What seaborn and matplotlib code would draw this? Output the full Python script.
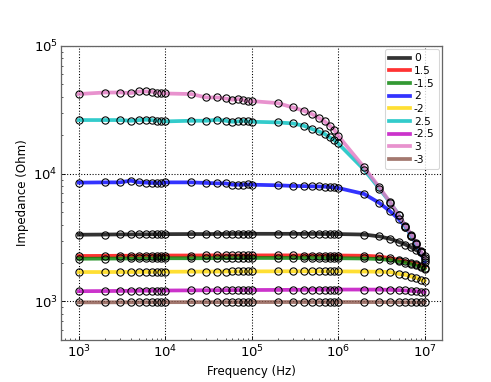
import numpy as np
import pandas as pd
import matplotlib
matplotlib.use("Agg")
import matplotlib.pyplot as plt
import seaborn as sns

# Frequencies (Hz)
freq = [1e3, 2e3, 3e3, 4e3, 5e3, 6e3, 7e3, 8e3, 9e3,
        1e4, 2e4, 3e4, 4e4, 5e4, 6e4, 7e4, 8e4, 9e4,
        1e5, 2e5, 3e5, 4e5, 5e5, 6e5, 7e5, 8e5, 9e5,
        1e6, 2e6, 3e6, 4e6, 5e6, 6e6, 7e6, 8e6, 9e6, 1e7]

labels = ['0', '1.5', '-1.5', '2', '-2', '2.5', '-2.5', '3', '-3']

z_0 = [3330, 3340, 3350, 3350, 3355, 3355, 3360, 3360, 3360,
       3365, 3370, 3370, 3375, 3375, 3380, 3380, 3380, 3380,
       3385, 3385, 3385, 3380, 3380, 3380, 3375, 3375, 3370,
       3370, 3340, 3230, 3090, 2930, 2790, 2650, 2520, 2420, 2250]
z_p15 = [2270, 2275, 2280, 2280, 2285, 2285, 2285, 2285, 2290,
         2290, 2290, 2295, 2295, 2295, 2295, 2295, 2295, 2295,
         2295, 2295, 2295, 2290, 2290, 2290, 2290, 2290, 2290,
         2290, 2280, 2250, 2180, 2120, 2065, 2006, 1970, 1910, 1830]
z_m15 = [2160, 2165, 2170, 2170, 2170, 2175, 2175, 2175, 2175,
         2180, 2180, 2180, 2185, 2185, 2185, 2185, 2185, 2185,
         2190, 2190, 2190, 2190, 2190, 2185, 2185, 2185, 2185,
         2180, 2170, 2150, 2110, 2060, 2010, 1960, 1920, 1870, 1800]
z_p2 = [8510, 8550, 8550, 8820, 8550, 8510, 8460, 8460, 8400,
        8550, 8550, 8460, 8400, 8400, 8200, 8200, 8200, 8250,
        8200, 8110, 8020, 7990, 7960, 7940, 7910, 7860, 7810,
        7730, 6940, 5900, 5070, 4420, 3850, 3280, 2840, 2420, 2050]
z_m2 = [1700, 1700, 1702, 1702, 1704, 1705, 1706, 1707, 1708,
        1710, 1712, 1714, 1715, 1716, 1717, 1718, 1719, 1720,
        1720, 1722, 1724, 1725, 1725, 1725, 1725, 1724, 1722,
        1720, 1715, 1710, 1700, 1645, 1617, 1568, 1531, 1484, 1446]
z_p25 = [26270, 26270, 26270, 25940, 26270, 26410, 26270, 25940, 25940,
         25640, 25940, 25940, 26410, 25940, 25480, 25640, 25940, 25640,
         25480, 25180, 24720, 23710, 22340, 21380, 20420, 19230, 18330,
         17250, 10740, 7630, 5930, 4790, 3850, 3280, 2840, 2460, 2130]
z_m25 = [1204, 1207, 1210, 1212, 1214, 1215, 1216, 1217, 1218,
         1219, 1222, 1224, 1226, 1227, 1228, 1229, 1229, 1230,
         1230, 1232, 1234, 1235, 1236, 1237, 1238, 1239, 1240,
         1240, 1240, 1238, 1234, 1228, 1220, 1212, 1204, 1195, 1186]
z_p3 = [42000, 43150, 43150, 42700, 43950, 43950, 43750, 42950, 42700,
        42400, 41970, 39450, 39450, 38730, 37850, 38370, 37670, 36730,
        36980, 35650, 32960, 31050, 29240, 27230, 25640, 23710, 22080,
        19820, 11200, 7810, 5970, 4760, 3920, 3340, 2890, 2500, 2170]
z_m3 = [985, 985, 986, 986, 986, 987, 987, 987, 987,
        988, 988, 988, 988, 989, 989, 989, 989, 989,
        990, 990, 990, 990, 990, 990, 990, 990, 990,
        990, 990, 989, 988, 987, 986, 985, 985, 984, 984]

series = [z_0, z_p15, z_m15, z_p2, z_m2, z_p25, z_m25, z_p3, z_m3]
colors = ['k', 'r', 'g', 'b', 'gold', 'c', 'm', 'tab:pink', 'tab:brown']

df = pd.DataFrame({
    'Frequency': np.tile(freq, len(labels)),
    'Impedance': np.concatenate(series),
    'V': np.repeat(labels, len(freq)),
})

plt.rcParams['mathtext.fontset'] = 'stix'
plt.rcParams['font.size'] = 10

fig, ax = plt.subplots(figsize=(6.4, 382 / 491 * 6.4), dpi=491 / 6.4)

for lab, col, z in zip(labels, colors, series):
    sub = df[df['V'] == lab]
    sns.lineplot(data=sub, x='Frequency', y='Impedance', color=col, lw=3.5,
                 alpha=0.8, label=lab, ax=ax, zorder=2)
    ax.plot(sub['Frequency'], sub['Impedance'], ls='none', marker='o',
            ms=6.8, mfc='none', mec='k', mew=1.0, zorder=3)

ax.set_xscale('log')
ax.set_yscale('log')
ax.set_ylim(500, 1e5)
ax.set_xlabel('Frequency (Hz)', fontsize=11)
ax.set_ylabel('Impedance (Ohm)', fontsize=11)
ax.grid(True, which='major', color='k', ls=':', lw=1)
ax.tick_params(which='both', direction='in', labelsize=12.5)
for s in ax.spines.values():
    s.set_color('#666666')
    s.set_linewidth(1.2)

handles, labs = ax.get_legend_handles_labels()
leg = ax.legend(handles, labs, loc='upper right', fontsize=10,
                handlelength=1.9, handletextpad=0.4, labelspacing=0.25,
                borderaxespad=0.3)
for h in leg.get_lines():
    h.set_linewidth(3.5)

fig.savefig('out.png', dpi=491 / 6.4)
